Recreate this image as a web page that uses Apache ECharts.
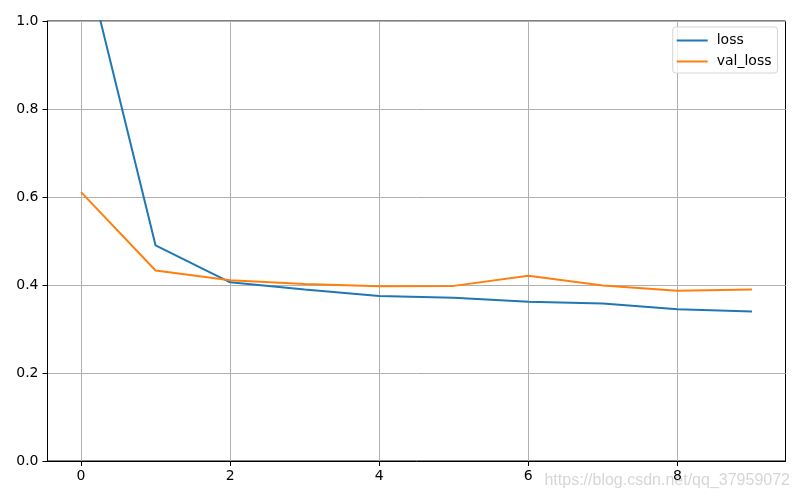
<!DOCTYPE html>
<html>
<head>
<meta charset="utf-8">
<script src="https://cdn.jsdelivr.net/npm/echarts@6/dist/echarts.min.js"></script>
<style>html,body{margin:0;padding:0;background:#fff}#c{width:800px;height:500px}</style>
</head>
<body>
<div id="c"></div>
<script>
var epochs = [0, 1, 2, 3, 4, 5, 6, 7, 8, 9];
var loss = [1.18, 0.490, 0.406, 0.390, 0.375, 0.371, 0.362, 0.358, 0.345, 0.340];
var valLoss = [0.611, 0.433, 0.411, 0.402, 0.397, 0.398, 0.421, 0.399, 0.387, 0.390];
var xTicks = [0, 2, 4, 6, 8];
var yTicks = [0, 0.2, 0.4, 0.6, 0.8, 1.0];

var chart = echarts.init(document.getElementById('c'), null, {renderer: 'canvas'});
var font = 'DejaVu Sans';
function pairs(xs, ys) { return xs.map(function (x, i) { return [x, ys[i]]; }); }

chart.setOption({
  animation: false,
  backgroundColor: '#fff',
  grid: {left: 47.5, right: 14.5, top: 21, bottom: 39, show: true, borderColor: '#000', borderWidth: 1, containLabel: false},
  legend: {
    orient: 'vertical', right: 22.5, top: 27,
    data: ['loss', 'val_loss'],
    icon: 'rect', itemWidth: 31, itemHeight: 2, itemGap: 4,
    padding: [5, 6, 3, 4],
    borderColor: '#d5d5d5', borderWidth: 1, borderRadius: 3,
    backgroundColor: 'rgba(255,255,255,0.8)',
    textStyle: {fontFamily: font, fontSize: 14, lineHeight: 17, color: '#000', padding: [0, 0, 0, 4]}
  },
  xAxis: {
    type: 'value', min: -0.45, max: 9.45,
    axisLine: {show: true, onZero: false, lineStyle: {color: '#000', width: 1}},
    axisTick: {show: true, length: 5, lineStyle: {color: '#000'}, customValues: xTicks},
    axisLabel: {fontFamily: font, fontSize: 14, color: '#000', margin: 8, customValues: xTicks, formatter: function (v) { return String(Math.round(v)); }},
    splitLine: {show: false}
  },
  yAxis: {
    type: 'value', min: 0, max: 1, interval: 0.2,
    axisLine: {show: true, onZero: false, lineStyle: {color: '#000', width: 1}},
    axisTick: {show: true, length: 5, lineStyle: {color: '#000'}},
    axisLabel: {fontFamily: font, fontSize: 14, color: '#000', margin: 9, formatter: function (v) { return v.toFixed(1); }},
    splitLine: {show: true, lineStyle: {color: '#b0b0b0', width: 1}}
  },
  series: [
    {
      name: 'loss', type: 'line', data: pairs(epochs, loss), showSymbol: false, symbol: 'none',
      clip: true, lineStyle: {color: '#1f77b4', width: 2}, itemStyle: {color: '#1f77b4'}, z: 3,
      markLine: {
        silent: true, symbol: 'none', label: {show: false},
        lineStyle: {color: '#b0b0b0', width: 1, type: 'solid'},
        data: xTicks.map(function (t) { return {xAxis: t}; }), z: 1
      }
    },
    {
      name: 'val_loss', type: 'line', data: pairs(epochs, valLoss), showSymbol: false, symbol: 'none',
      clip: true, lineStyle: {color: '#ff7f0e', width: 2}, itemStyle: {color: '#ff7f0e'}, z: 4
    }
  ],
  graphic: [{
    type: 'text', right: 10, top: 473, silent: true,
    style: {text: 'https://blog.csdn.net/qq_37959072', fill: 'rgba(200,200,200,0.75)', font: '16px "Liberation Sans", Arial'}
  }]
});
</script>
</body>
</html>
